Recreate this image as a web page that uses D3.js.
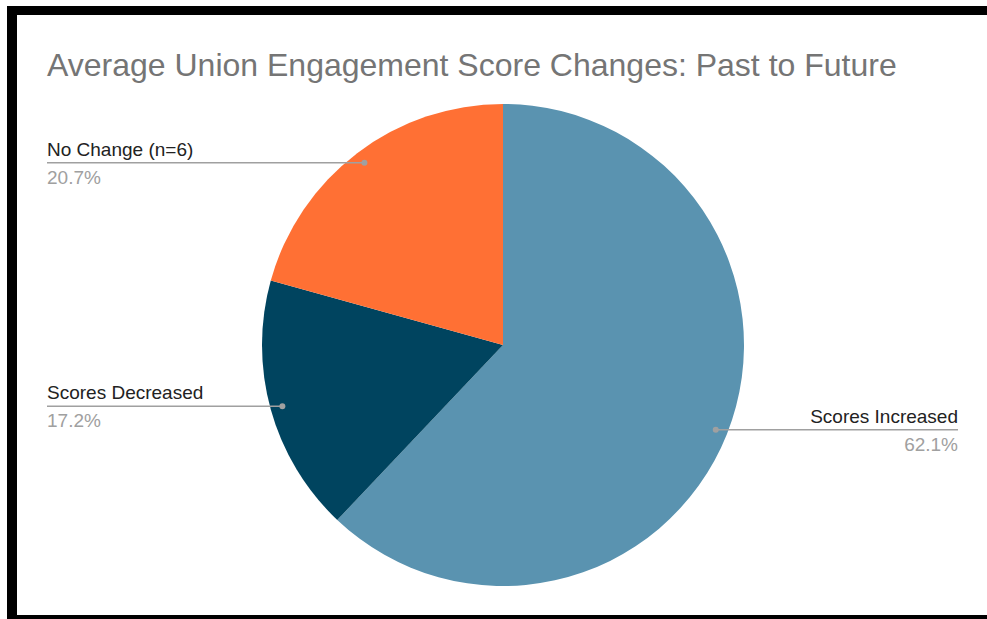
<!DOCTYPE html>
<html>
<head>
<meta charset="utf-8">
<script src="https://cdn.jsdelivr.net/npm/d3@7"></script>
<style>
  html, body { margin: 0; padding: 0; background: #fff; }
  svg { display: block; font-family: "Liberation Sans", Arial, sans-serif; }
</style>
</head>
<body>
<svg id="chart" width="987" height="619"></svg>
<script>
// Survey outcome counts (n = 29 respondents)
const categories = ["Scores Increased", "Scores Decreased", "No Change (n=6)"];
const counts = [18, 5, 6];
const percentLabels = ["62.1%", "17.2%", "20.7%"];
const sliceColors = ["#5a93b0", "#00445f", "#ff7034"];
const titleText = "Average Union Engagement Score Changes: Past to Future";

const svg = d3.select("#chart");
const W = 987, H = 619;

svg.append("rect").attr("width", W).attr("height", H).attr("fill", "#fff");

// Frame around the card
const frame = svg.append("g").attr("fill", "#000");
frame.append("rect").attr("x", 7).attr("y", 6).attr("width", W - 7).attr("height", 9);
frame.append("rect").attr("x", 7).attr("y", 6).attr("width", 10).attr("height", H - 6);
frame.append("rect").attr("x", 7).attr("y", 615).attr("width", W - 7).attr("height", 4);

// Title
svg.append("text")
  .attr("x", 47).attr("y", 76)
  .attr("fill", "#757575")
  .attr("font-size", 32)
  .text(titleText);

const cx = 503, cy = 345, radius = 241;
const data = categories.map((c, i) => ({ name: c, value: counts[i], pct: percentLabels[i], color: sliceColors[i] }));

const pie = d3.pie().value(d => d.value).sort(null);
const arcs = pie(data);
const arc = d3.arc().innerRadius(0).outerRadius(radius);
const dotArc = d3.arc().innerRadius(229).outerRadius(229);

const g = svg.append("g").attr("transform", `translate(${cx},${cy})`);
g.selectAll("path.slice")
  .data(arcs)
  .join("path")
  .attr("class", "slice")
  .attr("d", arc)
  .attr("fill", d => d.data.color);

// Leader lines with labels
const labelLeft = 47, labelRight = 958;
const lbl = svg.append("g");
arcs.forEach(a => {
  const [dx, dy] = dotArc.centroid(a);
  const px = cx + dx, py = cy + dy;
  const right = dx > 0;
  const endX = right ? labelRight : labelLeft;
  lbl.append("line")
    .attr("x1", px).attr("y1", py)
    .attr("x2", endX).attr("y2", py)
    .attr("stroke", "#a0a0a0").attr("stroke-width", 1.5);
  lbl.append("circle")
    .attr("cx", px).attr("cy", py).attr("r", 3)
    .attr("fill", "#a0a0a0");
  lbl.append("text")
    .attr("x", endX).attr("y", py - 7)
    .attr("text-anchor", right ? "end" : "start")
    .attr("font-size", 19)
    .attr("fill", "#222")
    .text(a.data.name);
  lbl.append("text")
    .attr("x", endX).attr("y", py + 21)
    .attr("text-anchor", right ? "end" : "start")
    .attr("font-size", 19)
    .attr("fill", "#a0a0a0")
    .text(a.data.pct);
});
</script>
</body>
</html>
